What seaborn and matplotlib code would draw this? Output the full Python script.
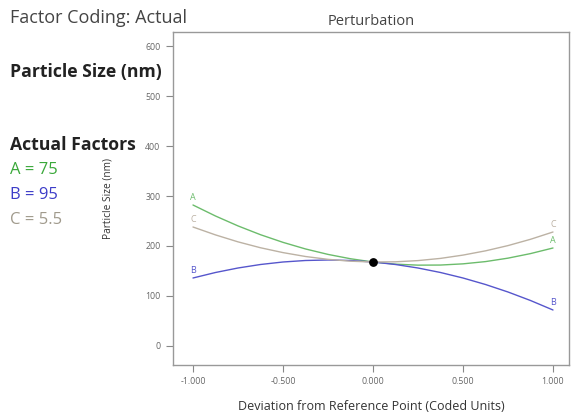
import numpy as np
import pandas as pd
import matplotlib
matplotlib.use("Agg")
import matplotlib.pyplot as plt
import seaborn as sns

sns.set_theme(style="white")
plt.rcParams['font.family'] = ['Open Sans', 'DejaVu Sans']

deviation = [-1.0, -0.875, -0.75, -0.625, -0.5, -0.375, -0.25, -0.125, 0.0,
             0.125, 0.25, 0.375, 0.5, 0.625, 0.75, 0.875, 1.0]
size_A = [282, 260, 240.2, 222.6, 207.3, 194.1, 183.2, 174.5, 168,
          163.7, 161.7, 161.9, 164.3, 168.8, 175.7, 184.8, 196]
size_B = [136, 147, 156, 163, 168, 171, 172, 171, 168,
          163, 156, 147, 136, 123, 108, 91, 72]
size_C = [238, 222.2, 208.3, 196.5, 186.8, 179, 173.3, 169.6, 168,
          168.4, 170.8, 175.2, 181.8, 190.3, 200.8, 213.4, 228]
ref_point = (0.0, 168)
factor_labels = ["A", "B", "C"]
factor_values = ["75", "95", "5.5"]
x_ticks = [-1.0, -0.5, 0.0, 0.5, 1.0]
x_tick_labels = ["-1.000", "-0.500", "0.000", "0.500", "1.000"]
y_ticks = [0, 100, 200, 300, 400, 500, 600]

colors = {"A": "#6cbc6c", "B": "#5656cc", "C": "#bcb2a4"}
text_colors = {"A": "#3aa83a", "B": "#3c3cc8", "C": "#a09a8c"}

df = pd.DataFrame({
    "x": deviation * 3,
    "y": size_A + size_B + size_C,
    "factor": ["A"] * len(deviation) + ["B"] * len(deviation) + ["C"] * len(deviation),
})

fig = plt.figure(figsize=(5.74, 4.12), dpi=100)
ax = fig.add_axes([0.3014, 0.1141, 0.6899, 0.8082])

sns.lineplot(data=df, x="x", y="y", hue="factor", palette=colors, ax=ax,
             linewidth=1.0, legend=False, sort=True)
ax.scatter([ref_point[0]], [ref_point[1]], s=28, color="black", zorder=5)

series = {"A": size_A, "B": size_B, "C": size_C}
for f in factor_labels:
    ys = series[f]
    ax.text(deviation[0], ys[0] + 6, f, color=colors[f], fontsize=6.5,
            ha="center", va="bottom")
    ax.text(deviation[-1], ys[-1] + 6, f, color=colors[f], fontsize=6.5,
            ha="center", va="bottom")

ax.set_xlim(-1.111, 1.089)
ax.set_ylim(-38, 628)
ax.set_xticks(x_ticks)
ax.set_xticklabels(x_tick_labels)
ax.set_yticks(y_ticks)
ax.set_yticklabels([str(v) for v in y_ticks])
ax.tick_params(axis="both", which="both", direction="out", length=5, width=0.8,
               color="#888888", labelsize=6.3, labelcolor="#666666", pad=4,
               bottom=True, left=True)
for s in ax.spines.values():
    s.set_color("#999999")
    s.set_linewidth(1.0)

ax.set_xlabel("Deviation from Reference Point (Coded Units)", fontsize=9,
              color="#333333", labelpad=10)
ax.set_ylabel("Particle Size (nm)", fontsize=7.3, color="#333333", labelpad=23)
ax.set_title("Perturbation", fontsize=10.5, color="#444444", pad=5)

fig.text(10 / 574, 1 - 18 / 412, "Factor Coding: Actual", fontsize=13,
         color="#444444", va="center", ha="left")
fig.text(10 / 574, 1 - 72 / 412, "Particle Size (nm)", fontsize=12.7,
         fontweight="bold", color="#222222", va="center", ha="left")
fig.text(10 / 574, 1 - 145 / 412, "Actual Factors", fontsize=12.7,
         fontweight="bold", color="#222222", va="center", ha="left")
for i, f in enumerate(factor_labels):
    fig.text(10 / 574, 1 - (170 + 25 * i) / 412, f"{f} = {factor_values[i]}",
             fontsize=12, color=text_colors[f], va="center", ha="left")

fig.savefig("out.png", dpi=100)
